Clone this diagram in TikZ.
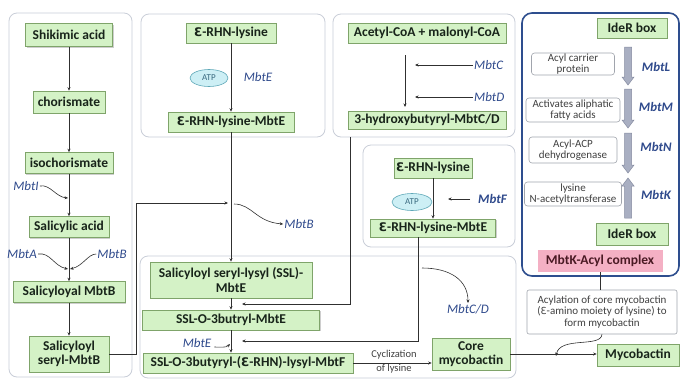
\documentclass[tikz,border=0pt]{standalone}
\usepackage{fontspec}
\setmainfont{Carlito}
\newfontfamily\dvfont[Scale=0.88]{DejaVu Sans}
\usetikzlibrary{arrows.meta,shadows,calc,shapes.geometric}
\newcommand{\OpenE}{{\dvfont Ɛ}}
\definecolor{gfill}{HTML}{D4F2C6}
\definecolor{gborder}{HTML}{7FA46A}
\definecolor{boxtext}{HTML}{18241A}
\definecolor{lblue}{HTML}{2F4A8C}
\definecolor{panelc}{HTML}{C9CED8}
\definecolor{iderc}{HTML}{2E4E8E}
\definecolor{garrowf}{HTML}{A9AFC2}
\definecolor{garrowd}{HTML}{858BA0}
\definecolor{atpf}{HTML}{CDEFF5}
\definecolor{atpd}{HTML}{5FA8B8}
\definecolor{atpt}{HTML}{3A6A80}
\definecolor{pinkf}{HTML}{F4B0C4}
\definecolor{pinkt}{HTML}{4A1A24}
\definecolor{linec}{HTML}{303030}
\definecolor{smallt}{HTML}{404040}
\tikzset{
  gbox/.style={draw=gborder, fill=gfill, line width=0.6pt, text=boxtext, align=center, inner sep=0pt,
    font=\bfseries\fontsize{13.5}{14.5}\selectfont,
    drop shadow={shadow xshift=1.2pt, shadow yshift=-1.2pt, opacity=0.35, fill=black!55}},
  wbox/.style={draw=panelc!80!black, fill=white, line width=0.6pt, rounded corners=3pt, text=smallt, align=center, inner sep=0pt,
    font=\fontsize{11}{11.5}\selectfont},
  panel/.style={draw=panelc, line width=0.8pt, rounded corners=8pt},
  lbl/.style={text=lblue, font=\itshape\fontsize{13}{13}\selectfont, inner sep=1pt},
  blbl/.style={lbl, font=\bfseries\itshape\fontsize{13}{13}\selectfont},
  conn/.style={draw=linec, line width=0.6pt, -{Stealth[length=3.5pt,width=3pt]}},
  plain/.style={draw=linec, line width=0.6pt},
  atp/.style={ellipse, draw=atpd, fill=atpf, line width=0.6pt, text=atpt, inner sep=0pt, font=\fontsize{9}{9}\selectfont},
  garrow/.style={fill=garrowf, draw=garrowd, line width=0.5pt},
  small/.style={text=smallt, font=\fontsize{10.5}{10.5}\selectfont, inner sep=0pt}
}
\newcommand{\gdown}[3]{\filldraw[garrow] (#1-3.5,#2) -- (#1+3.5,#2) -- (#1+3.5,#3-8) -- (#1+6,#3-8) -- (#1,#3) -- (#1-6,#3-8) -- (#1-3.5,#3-8) -- cycle;}
\newcommand{\gup}[3]{\filldraw[garrow] (#1,#2) -- (#1+6,#2+8) -- (#1+3.5,#2+8) -- (#1+3.5,#3) -- (#1-3.5,#3) -- (#1-3.5,#2+8) -- (#1-6,#2+8) -- cycle;}
\begin{document}
\begin{tikzpicture}[x=1pt,y=-1pt]
\fill[white] (0,0) rectangle (683,381);
\useasboundingbox (0,0) rectangle (683,381);
% panels
\draw[panel] (9,13) rectangle (132,377);
\draw[panel] (141,14) rectangle (325,137);
\draw[panel] (333,14) rectangle (515,137);
\draw[panel] (363,145) rectangle (515,247);
\draw[panel] (140,256) rectangle (516,378);
\draw[draw=iderc, line width=1.6pt, rounded corners=10pt] (522,13) rectangle (679,276);

% panel 1
\node[gbox, minimum width=87pt, minimum height=23pt] (shik) at (69,35) {Shikimic acid};
\node[gbox, minimum width=72pt, minimum height=22pt] (chor) at (69,102) {chorismate};
\node[gbox, minimum width=88pt, minimum height=21pt] (iso) at (69,163) {isochorismate};
\node[gbox, minimum width=80pt, minimum height=21pt] (salic) at (69,227) {Salicylic acid};
\node[gbox, minimum width=112pt, minimum height=21pt] (salmb) at (69,292) {Salicyloyal MbtB};
\node[gbox, minimum width=80pt, minimum height=36pt] (seryl) at (69,354) {Salicyloyl\\seryl-MbtB};
\draw[conn] (shik) -- (chor);
\draw[conn] (chor) -- (iso);
\draw[conn] (iso) -- (salic);
\draw[conn] (salic) -- (salmb);
\draw[conn] (salmb) -- (seryl);
\node[lbl] (mbti) at (26,186) {MbtI};
\coordinate (ci) at (68,198);
\draw[conn] (mbti.east) .. controls (50,184) and (56,197) .. (ci);
\node[lbl] (mbta) at (22,254) {MbtA};
\node[lbl] (mbtb1) at (112,254) {MbtB};
\coordinate (ca) at (68,269);
\coordinate (cb) at (70,269);
\draw[conn] (mbta.east) .. controls (50,252) and (54,266) .. (ca);
\draw[conn] (mbtb1.west) .. controls (88,254) and (83,266) .. (cb);

% panel 2
\node[gbox, minimum width=90pt, minimum height=20pt] (lys1) at (231,33) {\OpenE-RHN-lysine};
\node[atp, minimum width=38pt, minimum height=17pt] (atp1) at (209,78) {ATP};
\node[lbl] (mbte1) at (258,77) {MbtE};
\node[gbox, minimum width=126pt, minimum height=20pt] (lysE) at (231,122) {\OpenE-RHN-lysine-MbtE};
\draw[conn] (lys1) -- (lysE);

% panel 3
\node[gbox, minimum width=158pt, minimum height=20pt] (acet) at (427,33) {Acetyl-CoA + malonyl-CoA};
\node[gbox, minimum width=158pt, minimum height=18pt] (hb) at (427,120) {3-hydroxybutyryl-MbtC/D};
\coordinate (v1) at (405,55);
\coordinate (v2) at (405,107);
\draw[conn] (v1) -- (v2);
\node[lbl, anchor=west] (mbtc) at (473,65) {MbtC};
\node[lbl, anchor=west] (mbtd) at (473,97) {MbtD};
\coordinate (c1) at (415,65);
\coordinate (d1) at (415,97);
\draw[conn] (mbtc.west) -- (c1);
\draw[conn] (mbtd.west) -- (d1);

% panel 5
\node[gbox, minimum width=78pt, minimum height=20pt] (lys2) at (433,168) {\OpenE-RHN-lysine};
\node[atp, minimum width=40pt, minimum height=17pt] (atp2) at (412,202) {ATP};
\node[blbl, anchor=west] (mbtf) at (477,199) {MbtF};
\coordinate (f1) at (470,199);
\coordinate (f2) at (448,199);
\draw[conn] (f1) -- (f2);
\node[gbox, minimum width=125pt, minimum height=18pt] (lysE2) at (433,228) {\OpenE-RHN-lysine-MbtE};
\draw[conn] (lys2) -- (lysE2);

% bottom panel
\node[gbox, minimum width=162pt, minimum height=36pt] (ssl) at (231,280) {Salicyloyl seryl-lysyl (SSL)-\\MbtE};
\node[gbox, minimum width=177pt, minimum height=20pt] (ssl3) at (231,320) {SSL-O-3butryl-MbtE};
\node[gbox, minimum width=210pt, minimum height=20pt] (sslF) at (248,363) {SSL-O-3butyryl-(\OpenE-RHN)-lysyl-MbtF};
\draw[conn] (lysE) -- (ssl);
\draw[conn] (ssl) -- (ssl3);
\draw[conn] (ssl3.south) -- (ssl3.south |- sslF.north);
% from seryl
\coordinate (jb) at (136,203);
\coordinate (jt) at (228,203);
\draw[conn] (seryl.east) -| (jb) -- (jt);
\node[lbl] (mbtb2) at (299,224) {MbtB};
\coordinate (b1) at (234,204);
\draw[conn] (b1) .. controls (252,204) and (256,222) .. (mbtb2.west);
% from panel 3
\coordinate (p3) at (350,137);
\coordinate (p3e) at (242,304);
\draw[conn] (p3) |- (p3e);
% from panel 5
\coordinate (p5e) at (242,341);
\draw[conn] ($(lysE2.south)+(-15,0)$) |- (p5e);
\coordinate (cd1) at (422,268);
\node[lbl] (mbtcd) at (468,309) {MbtC/D};
\draw[conn] (cd1) .. controls (450,268) and (468,280) .. (mbtcd.north);
\node[lbl] (mbte2) at (197,343) {MbtE};
\coordinate (e2) at (230,344);
\draw[conn] (mbte2.east) ++(2,4) .. controls +(5,0) and +(-4,4) .. (e2);

% core & mycobactin
\node[gbox, minimum width=78pt, minimum height=32pt] (core) at (471,354) {Core\\mycobactin};
\draw[conn] (sslF.east) -- (sslF.east -| core.west);
\node[small] (cyc1) at (394,355) {Cyclization};
\node[small] (cyc2) at (394,369) {of lysine};
\node[gbox, minimum width=82pt, minimum height=22pt] (myc) at (638,355) {Mycobactin};
\draw[conn] (core.east) -- (core.east -| myc.west);
\node[wbox, rounded corners=2pt, minimum width=150pt, minimum height=44pt] (acyl) at (602,312) {Acylation of core mycobactin\\(\OpenE-amino moiety of lysine) to\\form mycobactin};
\coordinate (ac) at (556,356);
\draw[conn] (acyl.south) .. controls (601,348) and (560,336) .. (ac);

% IdeR panel
\node[gbox, minimum width=70pt, minimum height=20pt] (ider1) at (632,28) {IdeR box};
\node[wbox, minimum width=83pt, minimum height=22pt] (acp) at (573,64) {Acyl carrier\\protein};
\node[wbox, minimum width=94pt, minimum height=24pt] (act) at (573,110) {Activates aliphatic\\fatty acids};
\node[wbox, minimum width=88pt, minimum height=26pt] (adh) at (573,150) {Acyl-ACP\\dehydrogenase};
\node[wbox, minimum width=97pt, minimum height=24pt] (lnat) at (573,194) {lysine\\N-acetyltransferase};
\gdown{628}{47}{85}
\gdown{628}{89}{128}
\gdown{628}{133}{173}
\gup{628}{178}{218}
\node[blbl] (mbtl) at (656,67) {MbtL};
\node[blbl] (mbtm) at (656,107) {MbtM};
\node[blbl] (mbtn) at (656,147) {MbtN};
\node[blbl] (mbtk) at (656,195) {MbtK};
\node[gbox, minimum width=72pt, minimum height=22pt] (ider2) at (632,234) {IdeR box};
\node[fill=pinkf, text=pinkt, font=\bfseries\fontsize{13.5}{14}\selectfont, minimum width=125pt, minimum height=22pt, inner sep=0pt] (pink) at (600,261) {MbtK-Acyl complex};
\draw[plain] (pink.south) -- (pink.south |- acyl.north);
\end{tikzpicture}
\end{document}
